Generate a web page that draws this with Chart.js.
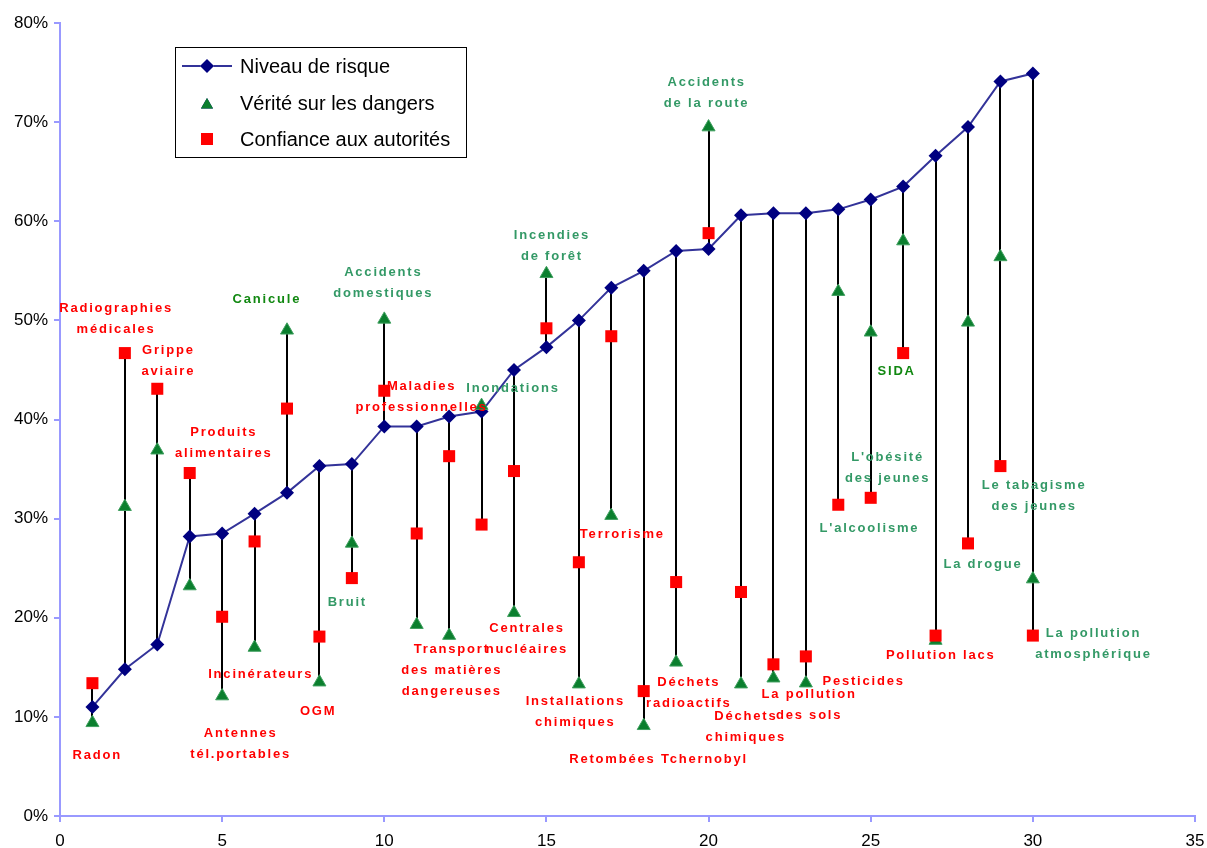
<!DOCTYPE html>
<html>
<head>
<meta charset="utf-8">
<script src="https://cdn.jsdelivr.net/npm/chart.js@4.4.0/dist/chart.umd.min.js"></script>
<style>
  html, body { margin: 0; background: #fff; }
  #wrap { width: 1207px; height: 848px; position: relative; }
</style>
</head>
<body>
<div id="wrap"><canvas id="chart"></canvas></div>
<script>
// ── Data (values in %) ───────────────────────────────────────────────────────
const rang      = [1, 2, 3, 4, 5, 6, 7, 8, 9, 10, 11, 12, 13, 14, 15,
                   16, 17, 18, 19, 20, 21, 22, 23, 24, 25, 26, 27, 28, 29, 30];
const risque    = [11.0, 14.8, 17.3, 28.2, 28.5, 30.5, 32.6, 35.3, 35.5, 39.3,
                   39.3, 40.3, 40.8, 45.0, 47.3, 50.0, 53.3, 55.0, 57.0, 57.2,
                   60.6, 60.8, 60.8, 61.2, 62.2, 63.5, 66.6, 69.5, 74.1, 74.9];
const verite    = [9.4, 31.2, 36.9, 23.2, 12.1, 17.0, 49.0, 13.5, 27.5, 50.1,
                   19.3, 18.2, 41.4, 20.5, 54.7, 13.3, 30.3, 9.1, 15.5, 69.5,
                   13.3, 13.9, 13.4, 52.9, 48.8, 58.0, 17.7, 49.8, 56.4, 23.9];
const confiance = [13.4, 46.7, 43.1, 34.6, 20.1, 27.7, 41.1, 18.1, 24.0, 42.9,
                   28.5, 36.3, 29.4, 34.8, 49.2, 25.6, 48.4, 12.6, 23.6, 58.8,
                   22.6, 15.3, 16.1, 31.4, 32.1, 46.7, 18.2, 27.5, 35.3, 18.2];

const seriesNames = ['Niveau de risque', 'Vérité sur les dangers', 'Confiance aux autorités'];

// Labels of the risks (x, y in chart units; first line)
const notes = [
  { t: ['Radiographies', 'médicales'], x: 1.73, y: 51.2, c: 'r' },
  { t: ['Grippe', 'aviaire'], x: 3.34, y: 47.0, c: 'r' },
  { t: ['Produits', 'alimentaires'], x: 5.05, y: 38.7, c: 'r' },
  { t: ['Canicule'], x: 6.38, y: 52.1, c: 'dg' },
  { t: ['Accidents', 'domestiques'], x: 9.97, y: 54.8, c: 'g' },
  { t: ['Maladies', 'professionnelles'], x: 11.15, y: 43.3, c: 'r' },
  { t: ['Inondations'], x: 13.97, y: 43.1, c: 'g' },
  { t: ['Incendies', 'de forêt'], x: 15.17, y: 58.6, c: 'g' },
  { t: ['Accidents', 'de la route'], x: 19.94, y: 74.0, c: 'g' },
  { t: ['Terrorisme'], x: 17.34, y: 28.4, c: 'r' },
  { t: ['SIDA'], x: 25.8, y: 44.8, c: 'dg' },
  { t: ["L'obésité", 'des jeunes'], x: 25.52, y: 36.2, c: 'g' },
  { t: ["L'alcoolisme"], x: 24.96, y: 29.0, c: 'g' },
  { t: ['Le tabagisme', 'des jeunes'], x: 30.04, y: 33.4, c: 'g' },
  { t: ['La drogue'], x: 28.46, y: 25.4, c: 'g' },
  { t: ['La pollution', 'atmosphérique'], x: 31.87, y: 18.4, c: 'g' },
  { t: ['Pollution lacs'], x: 27.16, y: 16.2, c: 'r' },
  { t: ['Pesticides'], x: 24.78, y: 13.6, c: 'r' },
  { t: ['La pollution', 'des sols'], x: 23.1, y: 12.3, c: 'r' },
  { t: ['Déchets', 'chimiques'], x: 21.15, y: 10.0, c: 'r' },
  { t: ['Déchets', 'radioactifs'], x: 19.39, y: 13.5, c: 'r' },
  { t: ['Retombées Tchernobyl'], x: 18.46, y: 5.7, c: 'r' },
  { t: ['Installations', 'chimiques'], x: 15.89, y: 11.6, c: 'r' },
  { t: ['Centrales', 'nucléaires'], x: 14.4, y: 18.9, c: 'r' },
  { t: ['Transport', 'des matières', 'dangereuses'], x: 12.08, y: 16.8, c: 'r' },
  { t: ['Bruit'], x: 8.86, y: 21.5, c: 'g' },
  { t: ['OGM'], x: 7.96, y: 10.6, c: 'r' },
  { t: ['Incinérateurs'], x: 6.19, y: 14.3, c: 'r' },
  { t: ['Antennes', 'tél.portables'], x: 5.57, y: 8.3, c: 'r' },
  { t: ['Radon'], x: 1.15, y: 6.1, c: 'r' }
];

// ── Styles ───────────────────────────────────────────────────────────────────
const NAVY   = '#000080';
const GREEN  = '#0b7f2e';
const RED    = '#ff0000';
const AXIS   = '#9999ff';
const FONT   = '"Liberation Sans", Arial, sans-serif';
const NOTE_COLORS = { r: '#ff0000', g: '#339966', dg: '#118811' };

const pts = arr => rang.map((r, i) => ({ x: r, y: arr[i] }));

// high-low lines between the three series
const hiLoLines = {
  id: 'hiLoLines',
  beforeDatasetsDraw(chart) {
    const { ctx, scales: { x, y } } = chart;
    ctx.save();
    ctx.strokeStyle = '#000';
    ctx.lineWidth = 2;
    rang.forEach((r, i) => {
      const v  = [risque[i], verite[i], confiance[i]];
      const px = Math.round(x.getPixelForValue(r));
      ctx.beginPath();
      ctx.moveTo(px, y.getPixelForValue(Math.max(...v)));
      ctx.lineTo(px, y.getPixelForValue(Math.min(...v)));
      ctx.stroke();
    });
    ctx.restore();
  }
};

// risk labels
const riskNotes = {
  id: 'riskNotes',
  afterDatasetsDraw(chart) {
    const { ctx, scales: { x, y } } = chart;
    ctx.save();
    ctx.font = 'bold 13px ' + FONT;
    ctx.letterSpacing = '1.8px';
    ctx.textAlign = 'center';
    ctx.textBaseline = 'middle';
    notes.forEach(n => {
      ctx.fillStyle = NOTE_COLORS[n.c];
      const px = x.getPixelForValue(n.x);
      const py = y.getPixelForValue(n.y);
      n.t.forEach((line, k) => ctx.fillText(line, px, py + k * 21));
    });
    ctx.restore();
  }
};

// boxed legend inside the plot
const boxLegend = {
  id: 'boxLegend',
  afterDraw(chart) {
    const ctx = chart.ctx;
    const L = 175, T = 47, W = 291, H = 110;
    ctx.save();
    ctx.fillStyle = '#fff';
    ctx.fillRect(L, T, W, H);
    ctx.strokeStyle = '#000';
    ctx.lineWidth = 1;
    ctx.strokeRect(L + 0.5, T + 0.5, W, H);

    const rows = [T + 19, T + 56, T + 92];
    const mx = L + 32;
    // line + diamond
    ctx.strokeStyle = '#333399';
    ctx.lineWidth = 2;
    ctx.beginPath(); ctx.moveTo(L + 7, rows[0]); ctx.lineTo(L + 57, rows[0]); ctx.stroke();
    Chart.helpers.drawPoint(ctx, { pointStyle: 'rectRot', radius: 7, borderWidth: 0 }, mx, rows[0]);
    ctx.fillStyle = NAVY; ctx.fill();
    Chart.helpers.drawPoint(ctx, { pointStyle: 'triangle', radius: 7, borderWidth: 0 }, mx, rows[1] + 2);
    ctx.fillStyle = GREEN; ctx.fill();
    Chart.helpers.drawPoint(ctx, { pointStyle: 'rect', radius: 8.5, borderWidth: 0 }, mx, rows[2]);
    ctx.fillStyle = RED; ctx.fill();

    ctx.fillStyle = '#000';
    ctx.font = '20px ' + FONT;
    ctx.textBaseline = 'middle';
    seriesNames.forEach((s, i) => ctx.fillText(s, L + 65, rows[i] + 1));
    ctx.restore();
  }
};

new Chart(document.getElementById('chart'), {
  type: 'line',
  data: {
    datasets: [
      { label: seriesNames[0], data: pts(risque), borderColor: '#333399', borderWidth: 2,
        pointStyle: 'rectRot', pointRadius: 7, pointBackgroundColor: NAVY,
        pointBorderColor: NAVY, pointBorderWidth: 0, tension: 0, order: 3 },
      { label: seriesNames[1], data: pts(verite), showLine: false,
        pointStyle: 'triangle', pointRadius: 7.5, pointBackgroundColor: GREEN,
        pointBorderColor: '#3f9f5f', pointBorderWidth: 1, order: 2 },
      { label: seriesNames[2], data: pts(confiance), showLine: false,
        pointStyle: 'rect', pointRadius: 8.5, pointBackgroundColor: RED,
        pointBorderColor: RED, pointBorderWidth: 0, order: 1 }
    ]
  },
  options: {
    animation: false,
    responsive: true,
    maintainAspectRatio: false,
    layout: { padding: { left: 0, top: 23, right: 12, bottom: 0 } },
    plugins: { legend: { display: false }, tooltip: { enabled: false } },
    scales: {
      x: {
        type: 'linear', min: 0, max: 35,
        ticks: { stepSize: 5, color: '#000', padding: 9, font: { family: FONT, size: 17 } },
        grid: { drawOnChartArea: false, drawTicks: true, tickLength: 6, color: AXIS, lineWidth: 2 },
        border: { color: AXIS, width: 2 },
        afterFit: s => { s.height = 32; s.paddingRight = 0; s.paddingLeft = 0; }
      },
      y: {
        type: 'linear', min: 0, max: 80,
        ticks: { stepSize: 10, color: '#000', padding: 6, font: { family: FONT, size: 17 },
                 callback: v => v + '%' },
        grid: { drawOnChartArea: false, drawTicks: true, tickLength: 6, color: AXIS, lineWidth: 2 },
        border: { color: AXIS, width: 2 },
        afterFit: s => { s.width = 60; }
      }
    }
  },
  plugins: [hiLoLines, riskNotes, boxLegend]
});
</script>
</body>
</html>
